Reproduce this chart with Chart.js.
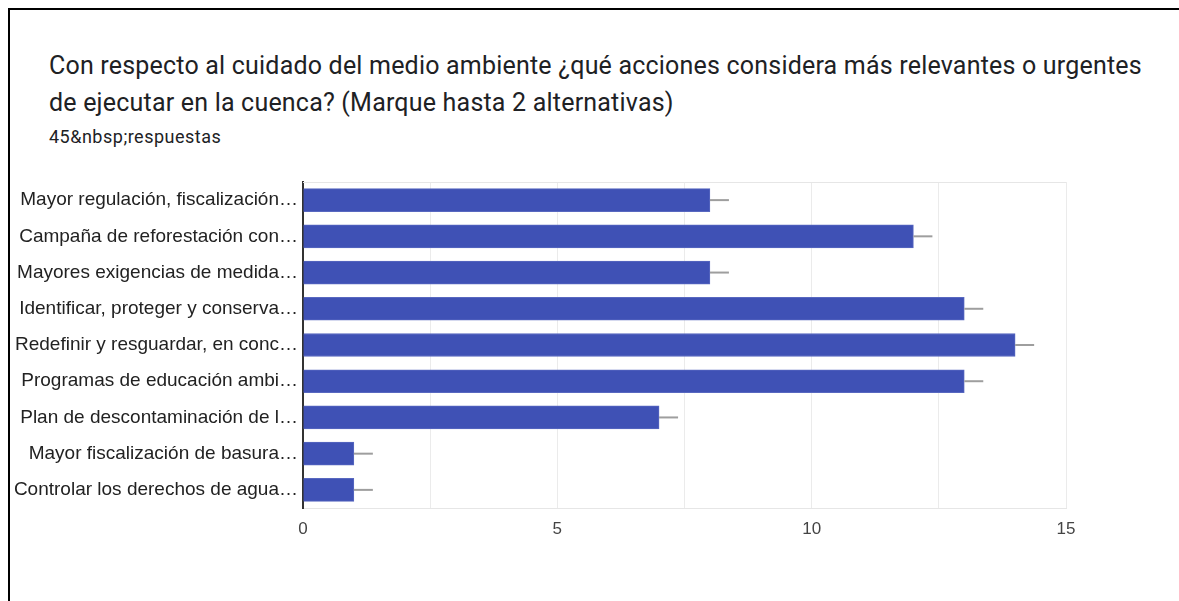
<!DOCTYPE html>
<html>
<head>
<meta charset="utf-8">
<script src="https://cdn.jsdelivr.net/npm/chart.js@4.4.1/dist/chart.umd.min.js"></script>
<style>
  html, body { margin: 0; padding: 0; background: #fff; }
  body { width: 1179px; height: 601px; position: relative; overflow: hidden; }
  .marco { position: absolute; left: 8px; top: 8px; right: -4px; bottom: -4px; border-top: 2px solid #000; border-left: 2px solid #000; }
  .titulo { position: absolute; left: 49px; top: 47px; font-family: Roboto, sans-serif; font-size: 25px; letter-spacing: 0.2px; line-height: 37px; color: #202124; white-space: nowrap; }
  .subtitulo { position: absolute; left: 49px; top: 126px; font-family: Roboto, sans-serif; font-size: 18px; letter-spacing: 0.5px; color: #202124; }
  #grafico { position: absolute; left: 10px; top: 150px; }
</style>
</head>
<body>
<div class="marco"></div>
<div class="titulo">Con respecto al cuidado del medio ambiente ¿qué acciones considera más relevantes o urgentes<br>de ejecutar en la cuenca? (Marque hasta 2 alternativas)</div>
<div class="subtitulo">45&amp;nbsp;respuestas</div>
<canvas id="grafico" width="1169" height="451"></canvas>
<script>
// Opciones tal como aparecen (recortadas) en el gráfico
const categorias = [
  'Mayor regulación, fiscalización…',
  'Campaña de reforestación con…',
  'Mayores exigencias de medida…',
  'Identificar, proteger y conserva…',
  'Redefinir y resguardar, en conc…',
  'Programas de educación ambi…',
  'Plan de descontaminación de l…',
  'Mayor fiscalización de basura…',
  'Controlar los derechos de agua…'
];
const respuestas = [8, 12, 8, 13, 14, 13, 7, 1, 1];
const ticksX = [0, 5, 10, 15];

// Dibuja el "bigote" gris al final de cada barra y el borde superior del área
const bigotes = {
  id: 'bigotes',
  afterDatasetsDraw(chart) {
    const ctx = chart.ctx;
    const area = chart.chartArea;
    ctx.save();
    ctx.strokeStyle = '#e6e6e6';
    ctx.lineWidth = 1;
    ctx.beginPath();
    ctx.moveTo(area.left, area.top + 0.5);
    ctx.lineTo(area.right, area.top + 0.5);
    ctx.stroke();

    ctx.strokeStyle = '#9e9e9e';
    ctx.lineWidth = 2;
    chart.getDatasetMeta(0).data.forEach(bar => {
      ctx.beginPath();
      ctx.moveTo(bar.x, bar.y);
      ctx.lineTo(bar.x + 19, bar.y);
      ctx.stroke();
    });
    ctx.restore();
  }
};

new Chart(document.getElementById('grafico').getContext('2d'), {
  type: 'bar',
  data: {
    labels: categorias,
    datasets: [{
      data: respuestas,
      backgroundColor: '#3f51b5',
      borderColor: '#5868c0',
      borderWidth: 1,
      barThickness: 23
    }]
  },
  options: {
    indexAxis: 'y',
    responsive: false,
    animation: false,
    layout: { padding: { top: 32, right: 113, bottom: 53, left: 0 } },
    plugins: {
      legend: { display: false },
      tooltip: { enabled: false }
    },
    scales: {
      x: {
        min: 0,
        max: 15,
        afterFit(scale) { scale.height = 40; },
        ticks: {
          stepSize: 2.5,
          padding: 11,
          color: '#444',
          font: { family: 'Liberation Sans, Arial, sans-serif', size: 17 },
          callback: v => ticksX.includes(v) ? String(v) : ''
        },
        grid: { color: '#ebebeb', lineWidth: 1, drawTicks: false },
        border: { color: '#e6e6e6', width: 1 }
      },
      y: {
        afterFit(scale) { scale.width = 293; },
        ticks: {
          padding: 5,
          color: '#222',
          font: { family: 'Liberation Sans, Arial, sans-serif', size: 19 }
        },
        grid: { display: false, drawTicks: false },
        border: { color: '#333', width: 2 }
      }
    }
  },
  plugins: [bigotes]
});
</script>
</body>
</html>
